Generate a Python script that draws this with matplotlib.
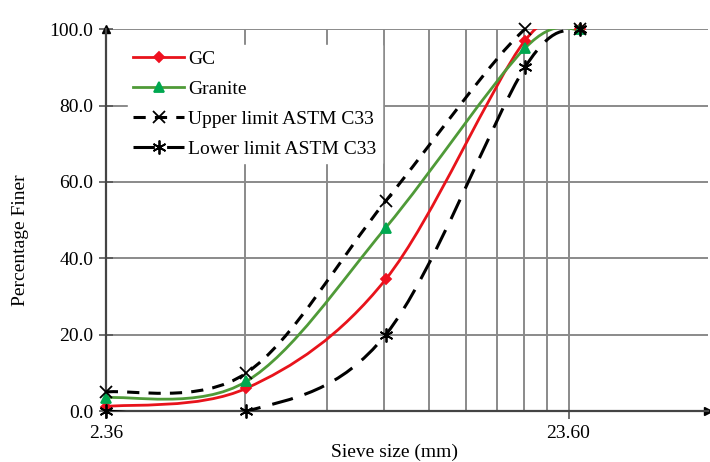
import numpy as np
import matplotlib
matplotlib.use("Agg")
import matplotlib.pyplot as plt
from matplotlib.path import Path
from matplotlib.patches import PathPatch
from matplotlib.lines import Line2D
from matplotlib.ticker import FixedLocator, NullFormatter, FixedFormatter

plt.rcParams["font.family"] = ["Liberation Serif", "DejaVu Serif"]
plt.rcParams["font.size"] = 14

# tamices (mm) y porcentaje que pasa
sieve = [2.36, 4.75, 9.5, 19.0, 25.0]
gc = [1.2, 6.0, 34.5, 97.0, 100.0]
granite = [3.5, 7.8, 48.0, 95.0, 100.0]
upper = [5.0, 10.0, 55.0, 100.0, 100.0]
lower = [0.0, 0.0, 20.0, 90.0, 100.0]

major_ticks = [2.36, 23.6]
major_labels = ["2.36", "23.60"]
minor_ticks = [2.36 * k for k in range(2, 10)]


def smooth_path(xs, ys):
    # curva suavizada tipo Excel (Catmull-Rom -> Bezier) en espacio log(x)
    lx = np.log10(xs)
    ys = np.asarray(ys, float)
    pts = np.column_stack([lx, ys])
    n = len(pts)
    verts = [pts[0]]
    codes = [Path.MOVETO]
    for i in range(n - 1):
        p0 = pts[i - 1] if i > 0 else pts[i]
        p1 = pts[i]
        p2 = pts[i + 1]
        p3 = pts[i + 2] if i + 2 < n else pts[i + 1]
        c1 = p1 + (p2 - p0) / 6.0
        c2 = p2 - (p3 - p1) / 6.0
        verts += [c1, c2, p2]
        codes += [Path.CURVE4] * 3
    verts = np.array(verts)
    verts[:, 0] = 10 ** verts[:, 0]
    return Path(verts, codes)


fig = plt.figure(figsize=(7.1, 4.62), dpi=100)
ax = fig.add_axes([0.149, 0.110, 0.848, 0.827])
ax.set_xscale("log")
ax.set_xlim(2.36, 47.2)
ax.set_ylim(0, 100)

series = [
    ("GC", gc, "#e8131b", "#f01020", "D", 5, "-", 2.0),
    ("Granite", granite, "#4f9a38", "#00a850", "^", 7, "-", 2.0),
    ("Upper limit ASTM C33", upper, "black", "black", "x", 9, (0, (4, 3)), 2.2),
    ("Lower limit ASTM C33", lower, "black", "black", (6, 2, 0), 10, (0, (7, 4)), 2.2),
]

handles = []
for name, vals, lc, mc, mk, ms, ls, lw in series:
    patch = PathPatch(smooth_path(sieve, vals), fill=False, edgecolor=lc,
                      linewidth=lw, linestyle=ls, zorder=3)
    ax.add_patch(patch)
    ax.plot(sieve, vals, linestyle="none", marker=mk, markersize=ms,
            color=mc, markeredgewidth=1.3, zorder=4, clip_on=False)
    handles.append(Line2D([], [], color=lc, linestyle=ls, linewidth=lw,
                          marker=mk, markersize=ms, markerfacecolor=mc,
                          markeredgecolor=mc, markeredgewidth=1.3))

ax.xaxis.set_major_locator(FixedLocator(major_ticks))
ax.xaxis.set_major_formatter(FixedFormatter(major_labels))
ax.xaxis.set_minor_locator(FixedLocator(minor_ticks))
ax.xaxis.set_minor_formatter(NullFormatter())
ax.set_yticks(np.arange(0, 101, 20))
ax.set_yticklabels([f"{v:.1f}" for v in np.arange(0, 101, 20)])

ax.grid(True, which="both", color="#8a8a8a", linewidth=1.4, zorder=0)
ax.set_axisbelow(True)
ax.tick_params(axis="y", which="major", direction="inout", length=10,
               color="#555555", width=1.2, pad=4)
ax.tick_params(axis="x", which="major", direction="out", length=6,
               color="#555555", width=1.2, pad=4)
ax.tick_params(axis="x", which="minor", length=0)

for s in ["top", "right"]:
    ax.spines[s].set_visible(False)
for s in ["left", "bottom"]:
    ax.spines[s].set_color("#444444")
    ax.spines[s].set_linewidth(1.6)
ax.plot(0, 1, "^", color="black", markersize=6, transform=ax.transAxes, clip_on=False)
ax.plot(1, 0, ">", color="black", markersize=6, transform=ax.transAxes, clip_on=False)

ax.set_xlabel("Sieve size (mm)")
ax.xaxis.set_label_coords(0.479, -0.085)
ax.set_ylabel("Percentage Finer")
ax.yaxis.set_label_coords(-0.128, 0.448)

leg = ax.legend(handles, [s[0] for s in series], loc="upper left",
                bbox_to_anchor=(0.02, 0.985), frameon=True, fancybox=False,
                handlelength=2.6, labelspacing=0.63, handletextpad=0.2,
                borderpad=0.3, fontsize=14)
leg.get_frame().set_facecolor("white")
leg.get_frame().set_edgecolor("white")
leg.get_frame().set_alpha(1.0)

fig.savefig("out.png", dpi=100)
